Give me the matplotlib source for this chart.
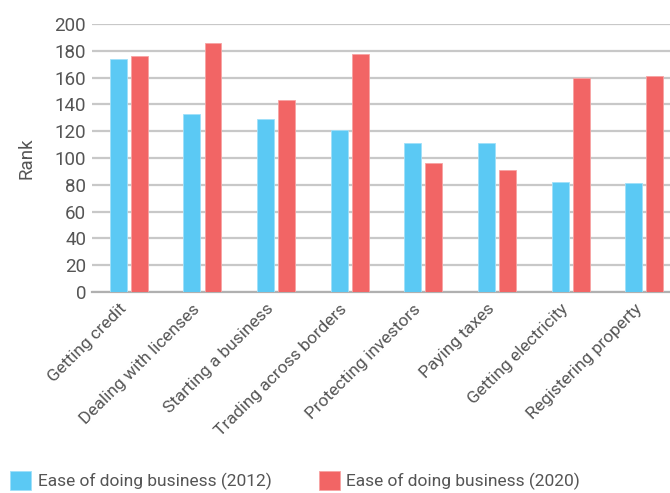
import numpy as np
import matplotlib
matplotlib.use("Agg")
import matplotlib.pyplot as plt
import matplotlib.transforms as mtransforms

plt.rcParams['font.family'] = ["Roboto", "DejaVu Sans"]

categories = ["Getting credit", "Dealing with licenses", "Starting a business",
              "Trading across borders", "Protecting investors", "Paying taxes",
              "Getting electricity", "Registering property"]
rank_2012 = [174, 133, 129, 121, 111, 111, 82, 81]
rank_2020 = [176, 186, 143, 178, 96, 91, 160, 161]
series_labels = ["Ease of doing business (2012)", "Ease of doing business (2020)"]

blue = "#5BC9F4"
red = "#F26565"
txt = "#555555"
fs = 12.5

fig = plt.figure(figsize=(6.7, 4.93), dpi=100)
ax = fig.add_axes([0.137, 0.408, 0.863, 0.543])

x = np.arange(len(categories))
w = 0.23
ax.bar(x - 0.143, rank_2012, w, color=blue, edgecolor="#9fe0fa", linewidth=0.6, label=series_labels[0], zorder=3)
ax.bar(x + 0.143, rank_2020, w, color=red, edgecolor="#f7a3a3", linewidth=0.6, label=series_labels[1], zorder=3)

ax.set_xlim(-0.503, 7.35)
ax.set_ylim(0, 200)
ax.set_yticks(range(0, 201, 20))
ax.grid(axis="y", color="#c8c8c8", linewidth=1.6, zorder=0)
for s in ["top", "right", "left"]:
    ax.spines[s].set_visible(False)
ax.spines["bottom"].set_color("#b0b0b0")
ax.spines["bottom"].set_linewidth(1.6)
ax.tick_params(axis="both", length=0, labelsize=fs + 1, colors=txt, pad=4)
ax.set_xticks(x)
ax.set_xticklabels(categories, rotation=45, ha="right", rotation_mode="anchor", fontsize=fs)
shift = mtransforms.ScaledTranslation(-10 / 100, -4 / 100, fig.dpi_scale_trans)
for lab in ax.get_xticklabels():
    lab.set_transform(lab.get_transform() + shift)
ax.set_ylabel("Rank", fontsize=fs + 1, color=txt, labelpad=14)

fig.legend(loc="lower left", bbox_to_anchor=(-0.008, -0.026), ncol=2, frameon=False,
           fontsize=fs, labelcolor=txt, handlelength=1.2, handleheight=1.3,
           handletextpad=0.4, columnspacing=2.7)

fig.savefig("out.png", dpi=100)
